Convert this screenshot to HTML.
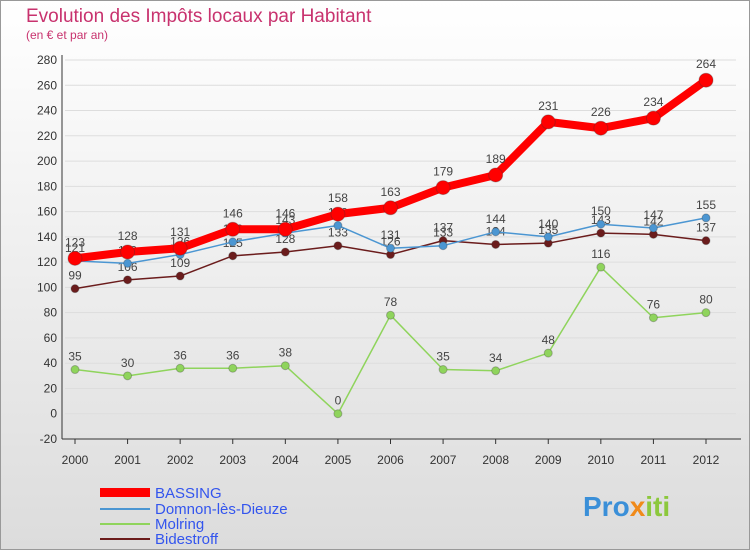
<!DOCTYPE html>
<html><head><meta charset="utf-8"><style>
body{margin:0;width:750px;height:550px;overflow:hidden;font-family:"Liberation Sans",sans-serif}
</style></head><body>
<svg id="c" width="750" height="550" xmlns="http://www.w3.org/2000/svg">
<defs><linearGradient id="bg" x1="0" y1="0" x2="0" y2="1"><stop offset="0" stop-color="#ffffff"/><stop offset="1" stop-color="#dcdcdc"/></linearGradient></defs>
<rect x="0.5" y="0.5" width="749" height="549" fill="url(#bg)" stroke="#999"/>
<text x="26" y="22" font-size="19" fill="#c8326e">Evolution des Impôts locaux par Habitant</text>
<text x="26" y="39" font-size="12" fill="#c8326e">(en € et par an)</text>
<g id="axes"></g><g id="series"></g>
<g font-size="15" fill="#3355ee">
<rect x="100" y="488" width="50" height="9" fill="#ff0000"/>
<text x="155" y="498">BASSING</text>
<line x1="100" y1="509" x2="150" y2="509" stroke="#4b96d2" stroke-width="2"/>
<text x="155" y="514">Domnon-lès-Dieuze</text>
<line x1="100" y1="524" x2="150" y2="524" stroke="#8fd45c" stroke-width="2"/>
<text x="155" y="529">Molring</text>
<line x1="100" y1="539" x2="150" y2="539" stroke="#6b1c1c" stroke-width="2"/>
<text x="155" y="544">Bidestroff</text>
</g>
<text x="583" y="516" font-size="28" font-weight="bold"><tspan fill="#3a8fd8">Pro</tspan><tspan fill="#f08a1a">x</tspan><tspan fill="#8cc83c">iti</tspan></text>
</svg>
<script>
const years=["2000","2001","2002","2003","2004","2005","2006","2007","2008","2009","2010","2011","2012"];
const yTicks=[-20,0,20,40,60,80,100,120,140,160,180,200,220,240,260,280];
const bassing=[123,128,131,146,146,158,163,179,189,231,226,234,264];
const domnon=[121,119,126,136,143,149,131,133,144,140,150,147,155];
const molring=[35,30,36,36,38,0,78,35,34,48,116,76,80];
const bidestroff=[99,106,109,125,128,133,126,137,134,135,143,142,137];
const NS="http://www.w3.org/2000/svg";
const x0=75,x1=706,yTop=60,yBot=439,vMin=-20,vMax=280;
const X=i=>x0+(x1-x0)*i/(years.length-1);
const Y=v=>yBot-(v-vMin)/(vMax-vMin)*(yBot-yTop);
function mk(t,a,p){const e=document.createElementNS(NS,t);for(const k in a)e.setAttribute(k,a[k]);p.appendChild(e);return e;}
const ax=document.getElementById('axes');
yTicks.forEach(v=>{const g=mk('line',{x1:x0-10,x2:x1+30,y1:Y(v),y2:Y(v),stroke:'#dddddd'},ax);


const t=mk('text',{x:57,y:Y(v)+4,'font-size':12,'text-anchor':'end',fill:'#333'},ax);t.textContent=v;

});
const ya=mk('line',{x1:62,x2:62,y1:yTop-5,y2:yBot,stroke:'#333'},ax);


const xa=mk('line',{x1:62,x2:x1+35,y1:yBot,y2:yBot,stroke:'#333'},ax);


years.forEach((y,i)=>{const t=mk('text',{x:X(i),y:464,'font-size':12,'text-anchor':'middle',fill:'#333'},ax);t.textContent=y;


const tk=mk('line',{x1:X(i),x2:X(i),y1:yBot,y2:yBot+5,stroke:'#333'},ax);

});
const sg=document.getElementById('series');
function series(name,data,color,w,r){
const g=mk('g',{},sg);


const pl=mk('polyline',{points:data.map((v,i)=>X(i)+','+Y(v)).join(' '),fill:'none',stroke:color,'stroke-width':w,'stroke-linejoin':'round'},g);


data.forEach((v,i)=>{const c=mk('circle',{cx:X(i),cy:Y(v),r:r,fill:color,stroke:'#333','stroke-opacity':0.3},g);


const t=mk('text',{x:X(i),y:Y(v)-9-(r>5?3:0),'font-size':12,'text-anchor':'middle',fill:'#444'},g);t.textContent=v;

});}
series('bidestroff',bidestroff,'#6b1c1c',1.5,4);
series('molring',molring,'#8fd45c',1.5,4);
series('domnon',domnon,'#4b96d2',1.5,4);
series('bassing',bassing,'#ff0000',8,7);
</script>
</body></html>
